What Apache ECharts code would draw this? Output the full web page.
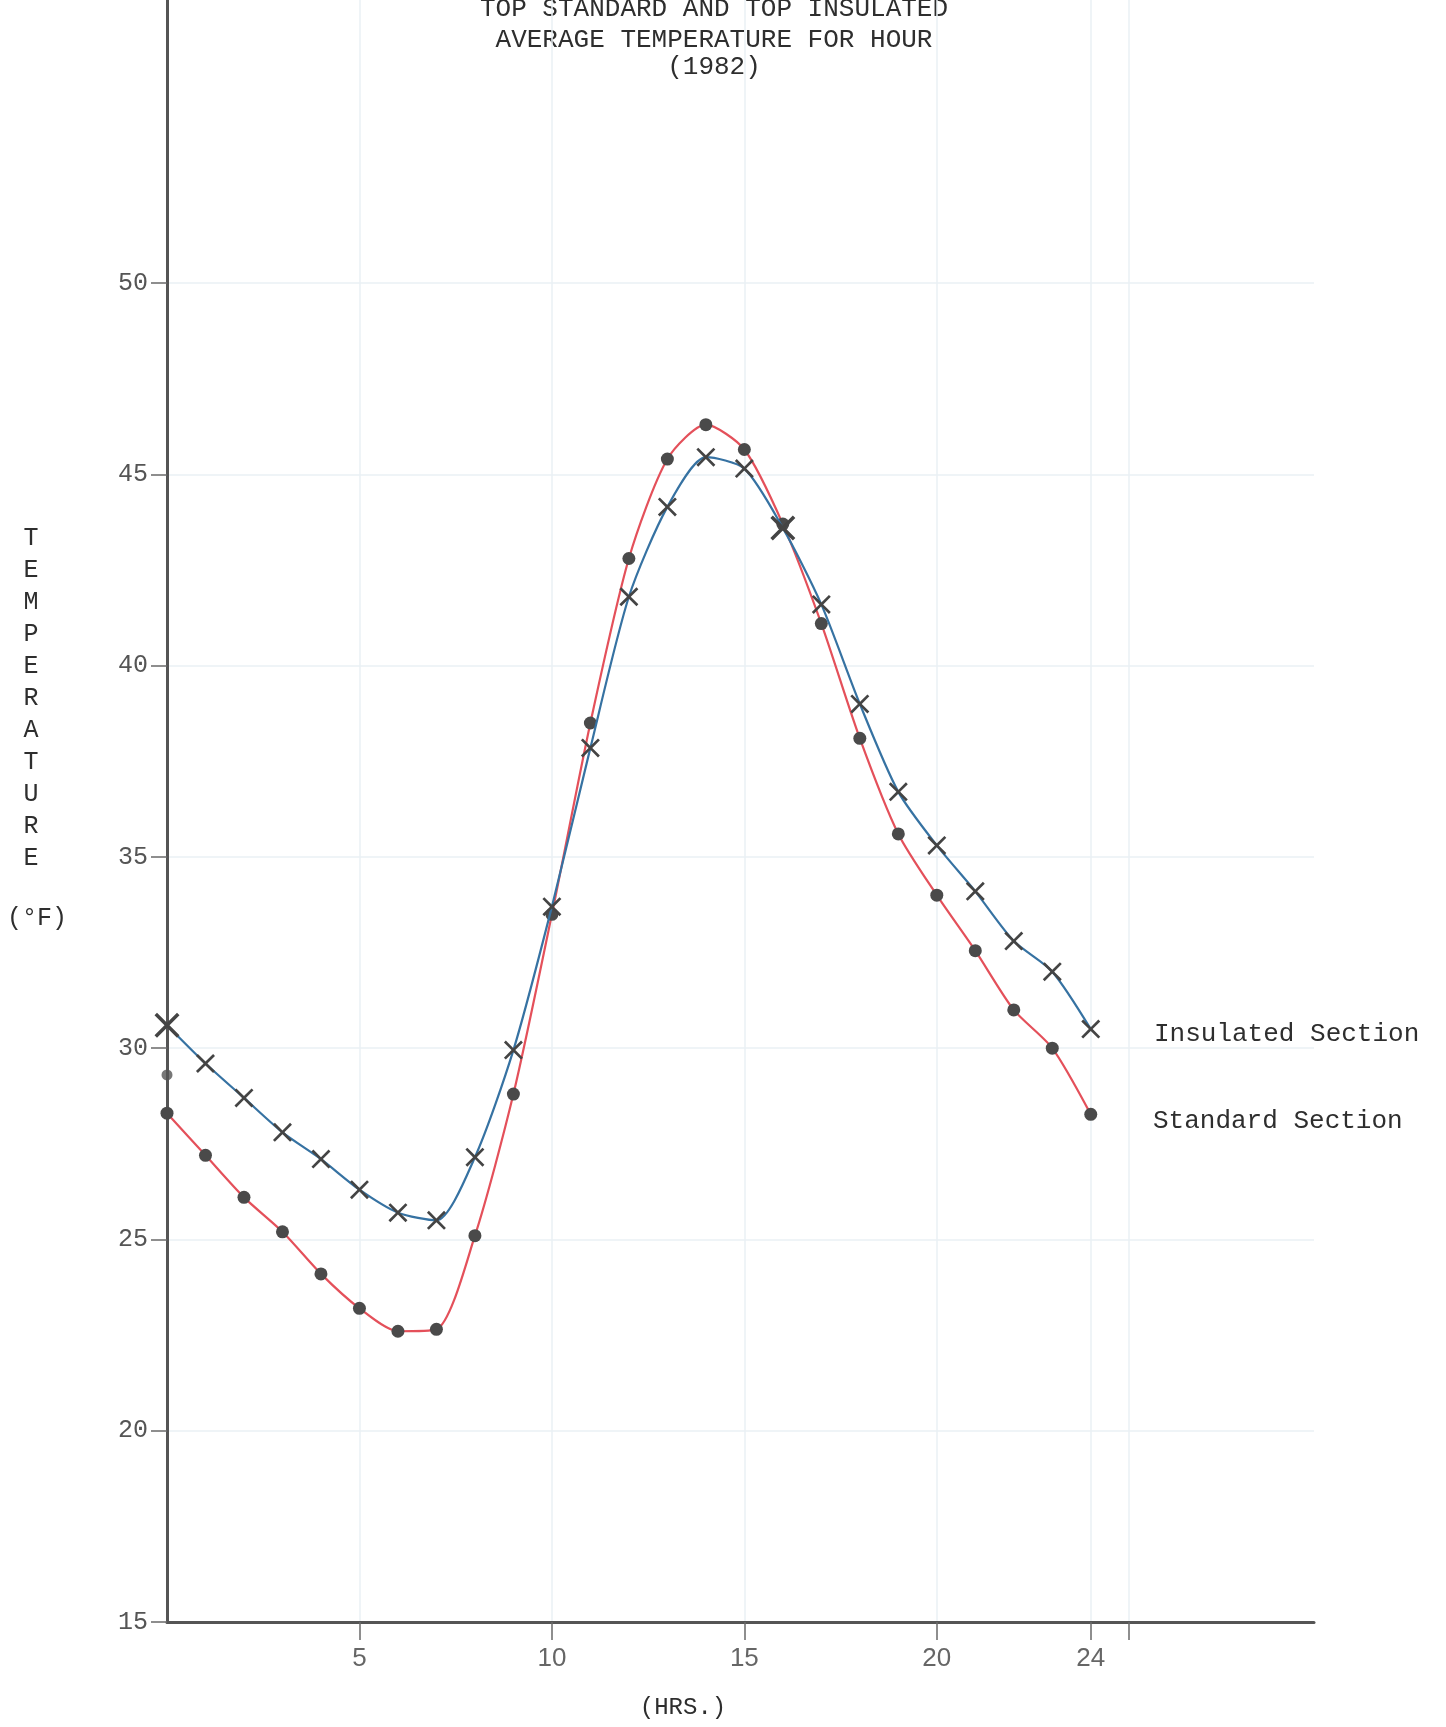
<!DOCTYPE html>
<html>
<head>
<meta charset="utf-8">
<title>Top Standard and Top Insulated Average Temperature for Hour (1982)</title>
<script src="https://cdn.jsdelivr.net/npm/echarts@6/dist/echarts.min.js"></script>
<style>
  html, body { margin: 0; padding: 0; background: #ffffff; }
  #chart { width: 1446px; height: 1727px; }
</style>
</head>
<body>
<div id="chart"></div>
<script>
// Hour of day
const hours = [0, 1, 2, 3, 4, 5, 6, 7, 8, 9, 10, 11, 12, 13, 14, 15, 16, 17, 18, 19, 20, 21, 22, 23, 24];

// Average temperature (°F) per hour, standard section
const standardTemp = [28.3, 27.2, 26.1, 25.2, 24.1, 23.2, 22.6, 22.65, 25.1, 28.8, 33.5, 38.5, 42.8, 45.4, 46.3, 45.65, 43.7, 41.1, 38.1, 35.6, 34.0, 32.55, 31.0, 30.0, 28.27];

// Average temperature (°F) per hour, insulated section
const insulatedTemp = [30.6, 29.6, 28.7, 27.8, 27.1, 26.3, 25.7, 25.5, 27.15, 29.95, 33.7, 37.85, 41.8, 44.15, 45.45, 45.15, 43.6, 41.6, 39.0, 36.7, 35.3, 34.1, 32.8, 32.0, 30.5];

// Second reading plotted at hour 0 for the standard section
const extraStandardReading = [[0, 29.3]];

// Axis tick values
const xTickValues = [5, 10, 15, 20, 24, 25];
const xLabelValues = [5, 10, 15, 20, 24];
const yTickValues = [15, 20, 25, 30, 35, 40, 45, 50];

const titleLines = ['TOP STANDARD AND TOP INSULATED', 'AVERAGE TEMPERATURE FOR HOUR', '(1982)'];
const yAxisTitle = 'TEMPERATURE';

const typeFont = '"Liberation Mono", "DejaVu Sans Mono", monospace';
const inkColor = '#2e2e2e';

// Cross marker drawn as a filled outline so it renders as a solid "X"
const crossSymbol = 'path://M2,0 L10,8 L18,0 L20,2 L12,10 L20,18 L18,20 L10,12 L2,20 L0,18 L8,10 L0,2 Z';

const chart = echarts.init(document.getElementById('chart'), null, { renderer: 'canvas' });

const graphics = [];
titleLines.forEach((line, i) => {
  graphics.push({
    type: 'text',
    x: 714, y: [9, 40, 67][i],
    style: { text: line, textAlign: 'center', textVerticalAlign: 'middle', font: '26px ' + typeFont, fill: inkColor }
  });
});
graphics.push({
  type: 'text',
  x: 31, y: 522,
  style: { text: yAxisTitle.split('').join('\n'), textAlign: 'center', textVerticalAlign: 'top', font: '25px ' + typeFont, lineHeight: 32, fill: inkColor }
});
graphics.push({
  type: 'text', x: 37, y: 918,
  style: { text: '(°F)', textAlign: 'center', textVerticalAlign: 'middle', font: '25px ' + typeFont, fill: inkColor }
});
graphics.push({
  type: 'text', x: 683, y: 1708,
  style: { text: '(HRS.)', textAlign: 'center', textVerticalAlign: 'middle', font: '24px ' + typeFont, fill: inkColor }
});
graphics.push({
  type: 'text', x: 1154, y: 1034,
  style: { text: 'Insulated Section', textAlign: 'left', textVerticalAlign: 'middle', font: '26px ' + typeFont, fill: inkColor }
});
graphics.push({
  type: 'text', x: 1153, y: 1121,
  style: { text: 'Standard Section', textAlign: 'left', textVerticalAlign: 'middle', font: '26px ' + typeFont, fill: inkColor }
});

const option = {
  animation: false,
  backgroundColor: '#ffffff',
  grid: { left: 167, right: 132, top: 0, bottom: 105, containLabel: false },
  xAxis: {
    type: 'value',
    min: 0,
    max: 29.8,
    interval: 5,
    axisLine: { show: true, onZero: false, lineStyle: { color: '#555555', width: 3 } },
    axisTick: { show: true, customValues: xTickValues, length: 18, lineStyle: { color: '#6a6a6a', width: 1.5 } },
    axisLabel: {
      customValues: xLabelValues,
      margin: 24,
      fontFamily: '"Liberation Sans Narrow", "Liberation Sans", sans-serif',
      fontSize: 26,
      color: '#666666'
    },
    splitLine: { show: true, lineStyle: { color: '#eaf1f4', width: 1.5 } }
  },
  yAxis: {
    type: 'value',
    min: 15,
    max: 57.4,
    interval: 5,
    axisLine: { show: true, onZero: false, lineStyle: { color: '#555555', width: 3 } },
    axisTick: { show: true, customValues: yTickValues, length: 16, lineStyle: { color: '#6a6a6a', width: 1.5 } },
    axisLabel: {
      customValues: yTickValues,
      margin: 19,
      fontFamily: typeFont,
      fontSize: 25,
      color: '#555555'
    },
    splitLine: { show: true, lineStyle: { color: '#eaf1f4', width: 1.5 } }
  },
  series: [
    {
      name: 'Standard Section',
      type: 'line',
      data: hours.map((h, i) => [h, standardTemp[i]]),
      smooth: 0.25,
      showAllSymbol: true,
      symbol: 'circle',
      symbolSize: 13,
      itemStyle: { color: '#4a4a4a' },
      lineStyle: { color: '#e4505a', width: 2.2 },
      z: 2
    },
    {
      name: 'Insulated Section',
      type: 'line',
      data: hours.map((h, i) => [h, insulatedTemp[i]]),
      smooth: 0.25,
      showAllSymbol: true,
      symbol: crossSymbol,
      symbolSize: (val) => (val[0] === 0 || val[0] === 16 ? 25 : 19),
      itemStyle: { color: '#444444' },
      lineStyle: { color: '#3672a2', width: 2.2 },
      z: 3
    },
    {
      name: 'Standard Section (second reading)',
      type: 'scatter',
      data: extraStandardReading,
      symbol: 'circle',
      symbolSize: 11,
      itemStyle: { color: '#555555' },
      z: 2
    }
  ],
  graphic: graphics
};

chart.setOption(option);
</script>
</body>
</html>
